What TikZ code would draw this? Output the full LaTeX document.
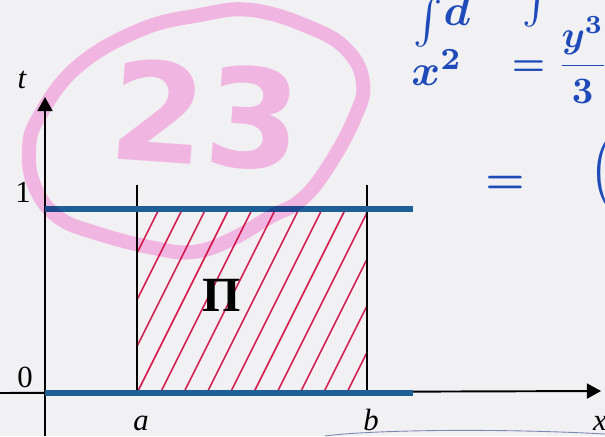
\documentclass[tikz,border=0pt]{standalone}
\usepackage{amsmath}
\usepackage{fontspec}
\setmainfont{Liberation Serif}
\newfontfamily\markfont{DejaVu Sans}
\usetikzlibrary{arrows.meta, positioning}
\definecolor{paper}{RGB}{241,241,243}
\definecolor{bandblue}{RGB}{30,95,150}
\definecolor{hatchred}{RGB}{212,30,80}
\definecolor{markpink}{RGB}{255,192,238}
\definecolor{inkblue}{RGB}{30,75,185}
\definecolor{pencil}{RGB}{125,135,175}

\begin{document}
\begin{tikzpicture}[
  axis/.style={line width=1.1pt,-{Triangle[width=8.5pt,length=8pt]}},
  band/.style={bandblue,line width=3pt},
  edge/.style={line width=0.8pt},
  hatch/.style={hatchred,line width=0.9pt},
  lab/.style={anchor=base,inner sep=0pt,font=\fontsize{17.5}{20}\selectfont},
  ink/.style={inkblue,inner sep=0pt,scale=2.5,font=\boldmath}
]
  \def\tone{3.68}
  \def\xa{1.84}
  \def\xb{6.44}
  \def\bandend{7.36}
  \fill[paper] (-0.9,-0.86) rectangle (11.2,7.86);
  \useasboundingbox (-0.9,-0.86) rectangle (11.2,7.86);
  % axes
  \coordinate (ybot) at (0,-0.86);
  \coordinate (ytip) at (0,5.92);
  \coordinate (xleft) at (-0.9,0);
  \coordinate (xtip) at (11.12,0.04);
  \draw[axis] (ybot) -- (ytip);
  \draw[axis] (xleft) -- (xtip);
  % hatched strip between a and b
  \begin{scope}
    \clip (\xa,0) rectangle (\xb,\tone);
    \foreach \k in {-3,...,9}{
      \draw[hatch] (\xa+\k*0.466,0) -- ++(1.84,3.68);
    }
  \end{scope}
  % vertical edges at a and b
  \coordinate (a0) at (\xa,0);
  \coordinate (a1) at (\xa,4.16);
  \coordinate (b0) at (\xb,0);
  \coordinate (b1) at (\xb,4.16);
  \draw[edge] (a0) -- (a1);
  \draw[edge] (b0) -- (b1);
  % the two blue lines t=0 and t=1
  \coordinate (low0) at (0,0);
  \coordinate (low1) at (\bandend,0);
  \coordinate (up0) at (0,\tone);
  \coordinate (up1) at (\bandend,\tone);
  \draw[band] (low0) -- (low1);
  \draw[band] (up0) -- (up1);
  % labels
  \node[lab] (tlab) at (-0.46,6.08) {\itshape t};
  \node[lab] (onelab) at (-0.44,3.8) {1};
  \node[lab] (zerolab) at (-0.4,0.12) {0};
  \node[lab] (alab) at (1.92,-0.74) {\itshape a};
  \node[lab] (blab) at (6.52,-0.74) {\itshape b};
  \node[lab] (xlab) at (11.1,-0.74) {\itshape x};
  \node[font=\fontsize{28}{30}\selectfont\bfseries] (region) at (3.54,1.96) {П};
  % handwritten notes
  \node[ink,anchor=south] (int1) at (7.66,6.9) {$\int$};
  \node[ink] (upper) at (8.24,7.66) {$d$};
  \node[ink] (xsq) at (7.84,6.5) {$x^2$};
  \node[ink,anchor=south] (int2) at (9.84,7.3) {$\int$};
  \node[ink,scale=0.85] (frac) at (10.3,6.66) {$=\dfrac{y^3}{3}$};
  \node[ink] (eqlow) at (9.2,4.16) {$=$};
  \node[ink,scale=1.0] (paren) at (11.16,4.4) {$\Big($};
  \coordinate (pen0) at (5.6,-0.86);
  \coordinate (pen1) at (11.2,-0.82);
  \draw[pencil,line width=0.5pt] (pen0) .. controls (6.5,-0.74) and (9,-0.7) .. (pen1);
  % pink marker
  \begin{scope}[blend mode=multiply]
    \draw[markpink,line width=8pt,line cap=round,line join=round]
      plot[smooth cycle,tension=0.7] coordinates {
        (-0.32,4.86) (-0.12,5.52) (0.64,6.52) (1.90,7.26) (3.10,7.56)
        (4.12,7.66) (5.28,7.32) (6.04,6.86) (6.36,6.20) (6.20,5.52)
        (5.66,4.52) (5.12,3.86) (4.50,3.52) (3.70,3.06) (2.96,2.82)
        (2.18,2.90) (1.02,3.20) (0.26,3.52) (-0.20,4.12)};
    \node[markpink,font=\markfont\bfseries\fontsize{78}{84}\selectfont,rotate=-4] (mark) at (3.22,5.56) {23};
  \end{scope}
\end{tikzpicture}
\end{document}
